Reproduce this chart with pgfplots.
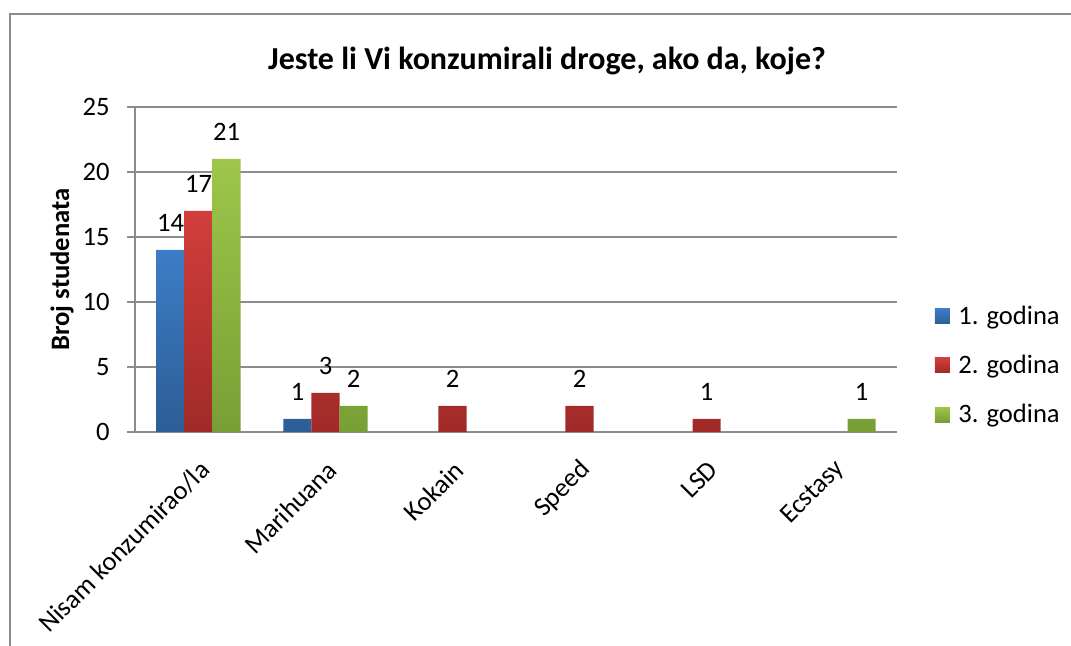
\documentclass[border=0pt]{standalone}
\usepackage{pgfplots}
\pgfplotsset{compat=1.18}
\usepackage{fontspec}
\setmainfont{Carlito}
\definecolor{bTop}{HTML}{3C7DC6}
\definecolor{bBot}{HTML}{2D5D96}
\definecolor{rTop}{HTML}{D23E3B}
\definecolor{rBot}{HTML}{A02A28}
\definecolor{gTop}{HTML}{9DC64A}
\definecolor{gBot}{HTML}{779F35}
\definecolor{gridgray}{HTML}{8C8C8C}
\newcommand{\lbl}{\fontsize{13.3}{15}\selectfont}
\begin{document}
\begin{tikzpicture}
\path[use as bounding box] (0pt,0pt) rectangle (535.5pt,323pt);
\draw[gridgray, line width=1pt] (5pt,-5pt) -- (5pt,316pt) -- (545pt,316pt);
\begin{axis}[
  at={(67.5pt,107pt)}, anchor=south west,
  scale only axis, width=381pt, height=162.5pt,
  xmin=-0.5, xmax=5.5, ymin=0, ymax=25,
  ytick={0,5,...,25},
  xtick={0,1,2,3,4,5},
  xticklabels={Nisam konzumirao/la, Marihuana, Kokain, Speed, LSD, Ecstasy},
  axis x line*=bottom, axis y line*=left,
  axis line style={-, draw=gridgray, line width=0.8pt},
  ymajorgrids, grid style={gridgray, line width=0.8pt},
  tick align=outside, major tick length=4pt,
  ytick style={gridgray, line width=0.8pt},
  xtick style={draw=none},
  /pgf/number format/assume math mode=true,
  yticklabel style={font=\lbl, inner sep=0pt, anchor=east, xshift=-8.5pt},
  xticklabel style={font=\lbl, inner sep=0pt, xshift=3.5pt, yshift=-12.7pt, rotate=45, anchor=east},
  ylabel={Broj studenata},
  ylabel style={font=\bfseries\lbl, at={(axis description cs:-0.0958,0.5)}, anchor=center},
  title={Jeste li Vi konzumirali droge, ako da, koje?},
  title style={font=\bfseries\fontsize{16}{18}\selectfont, at={(axis description cs:0.5407,1.105)}, anchor=center},
  ybar=0pt, bar width=0.2205,
  nodes near coords,
  every node near coord/.append style={font=\lbl, inner sep=0pt, anchor=south, yshift=9pt},
  legend style={at={(axis description cs:1.0492,0.2046)}, anchor=west, draw=none, fill=none,
    font=\lbl, inner sep=0pt, row sep=10.3pt, column sep=2.5pt, nodes={inner sep=1.75pt}},
  legend cell align=left,
  legend image code/.code={\path[#1, draw=none] (0pt,-3.75pt) rectangle (7.5pt,3.75pt);},
]
\addplot[draw=none, top color=bTop, bottom color=bBot] coordinates {(0,14) (1,1)};
\addplot[draw=none, top color=rTop, bottom color=rBot] coordinates {(0,17) (1,3) (2,2) (3,2) (4,1)};
\addplot[draw=none, top color=gTop, bottom color=gBot] coordinates {(0,21) (1,2) (5,1)};
\legend{1. godina, 2. godina, 3. godina}
\end{axis}
\end{tikzpicture}
\end{document}
